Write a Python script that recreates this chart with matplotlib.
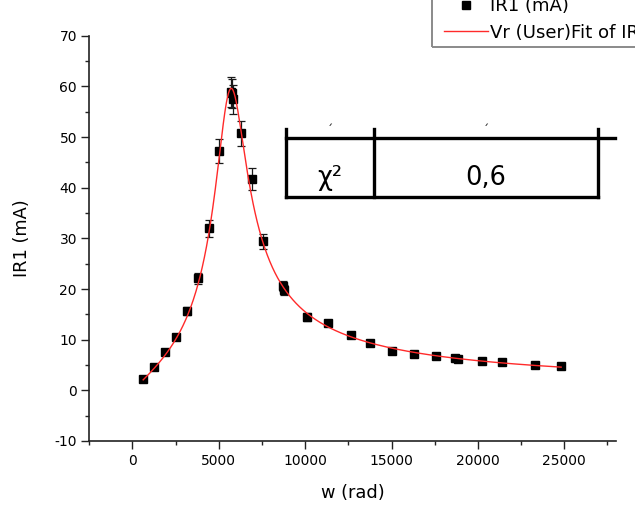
import numpy as np
import matplotlib
matplotlib.use("Agg")
import matplotlib.pyplot as plt
from matplotlib.lines import Line2D
from matplotlib.patches import Rectangle

plt.rcParams['font.family'] = ['DejaVu Sans']
plt.rcParams['axes.unicode_minus'] = False

# ---- data ----
w_rad = [620, 1274, 1894, 2530, 3185, 3787, 4403, 5020, 5697, 5790, 5848,
         6312, 6931, 7550, 8744, 8803, 10098, 11314, 12681, 13782, 15037,
         16311, 17568, 18686, 18876, 20249, 21425, 23318, 24823]
ir1_mA = [2.23, 4.6, 7.55, 10.45, 15.6, 22.1, 31.95, 47.3, 58.9, 58.6, 57.45,
          50.7, 41.7, 29.4, 20.6, 19.8, 14.5, 13.3, 11.0, 9.3, 7.75,
          7.2, 6.77, 6.4, 6.2, 5.85, 5.5, 5.05, 4.8]
ir1_err = [0.11, 0.23, 0.38, 0.52, 0.78, 1.1, 1.6, 2.4, 2.95, 2.93, 2.87,
           2.5, 2.1, 1.5, 1.0, 1.0, 0.73, 0.67, 0.55, 0.47, 0.39,
           0.36, 0.34, 0.32, 0.31, 0.29, 0.28, 0.25, 0.24]

# fit model parameters (series RLC resonance, I = A / sqrt(B^2 + (w - w0^2/w)^2))
FIT_A = 108000.0
FIT_B = 1812.0
FIT_W0 = 5720.0

x_ticks = [0, 5000, 10000, 15000, 20000, 25000]
y_ticks = [-10, 0, 10, 20, 30, 40, 50, 60, 70]
table_labels = ["χ²", "0,6"]

W, H = 635, 505
fig = plt.figure(figsize=(W / 100, H / 100), dpi=100)

def fx(px):
    return px / W

def fy(py):
    return 1 - py / H

ax = fig.add_axes([fx(89.3), fy(441), fx(616) - fx(89.3), fy(35.7) - fy(441)])

w_arr = np.array(w_rad, dtype=float)
wf = np.linspace(w_arr[0], w_arr[-1], 800)
fit = FIT_A / np.sqrt(FIT_B ** 2 + (wf - FIT_W0 ** 2 / wf) ** 2)

ax.errorbar(w_rad, ir1_mA, yerr=ir1_err, fmt='none', ecolor='#1a1a1a',
            elinewidth=0.9, capsize=3.2, capthick=0.9, zorder=2)
pts, = ax.plot(w_rad, ir1_mA, linestyle='none', marker='s', markersize=6.0,
               color='black', markeredgecolor='black', zorder=3,
               label='IR1 (mA)')
fl, = ax.plot(wf, fit, color='#ff2a2a', lw=1.0, zorder=4,
              label='Vr (User)Fit of IR1')

ax.set_xlim(-2500, 28000)
ax.set_ylim(-10, 70)
ax.set_xticks(x_ticks)
ax.set_xticks(np.arange(-2500, 28001, 2500), minor=True)
ax.set_yticks(y_ticks)
ax.set_yticks(np.arange(-10, 71, 5), minor=True)
ax.tick_params(axis='both', which='major', direction='out', length=5.5,
               width=1.0, labelsize=10, color='#222222')
ax.tick_params(axis='both', which='minor', direction='out', length=2.8,
               width=1.0, color='#222222')
ax.tick_params(axis='y', which='major', pad=3.4)
ax.tick_params(axis='x', which='major', pad=4.0)
for s in ['top', 'right']:
    ax.spines[s].set_visible(False)
for s in ['left', 'bottom']:
    ax.spines[s].set_linewidth(1.2)
    ax.spines[s].set_color('#222222')

ax.set_xlabel('w (rad)', fontsize=12.8)
ax.set_ylabel('IR1 (mA)', fontsize=12.8)
ax.xaxis.set_label_coords(0.5, (441 - 484) / 405.3)
ax.yaxis.set_label_coords((31 - 89.3) / 526.7, 0.5)

# legend (cropped at figure top / right like the reference)
leg = ax.legend(handles=[pts, fl], loc='lower left',
                bbox_to_anchor=(fx(444), fy(41.5)), bbox_transform=fig.transFigure,
                frameon=False, borderpad=0, borderaxespad=0, fontsize=13.1,
                handlelength=2.4, handletextpad=0.15, labelspacing=0.44,
                markerscale=1.0)
fig.add_artist(Rectangle((fx(432.3), fy(46.7)), 0.4, 0.3, transform=fig.transFigure,
                         fill=False, edgecolor='#8a8a8a', lw=1.4))

# overlaid table fragment
tlw = 2.4
def seg(x1, y1, x2, y2):
    fig.add_artist(Line2D([fx(x1), fx(x2)], [fy(y1), fy(y2)], transform=fig.transFigure,
                          color='black', lw=tlw, solid_capstyle='projecting'))

seg(285.5, 137.7, 615, 137.7)
seg(285.5, 197, 597.5, 197)
seg(285.5, 129, 285.5, 197)
seg(374.3, 129, 374.3, 197)
seg(597.5, 129, 597.5, 197)

fig.text(fx(329.5), fy(178), table_labels[0], fontsize=18.5, ha='center', va='center')
fig.text(fx(485.5), fy(177.5), table_labels[1], fontsize=18.5, ha='center', va='center')
fig.text(fx(330), fy(131), '´', fontsize=9, ha='center', va='center', color='#222222')
fig.text(fx(486), fy(131), '´', fontsize=9, ha='center', va='center', color='#222222')

fig.savefig('out.png', dpi=100)
